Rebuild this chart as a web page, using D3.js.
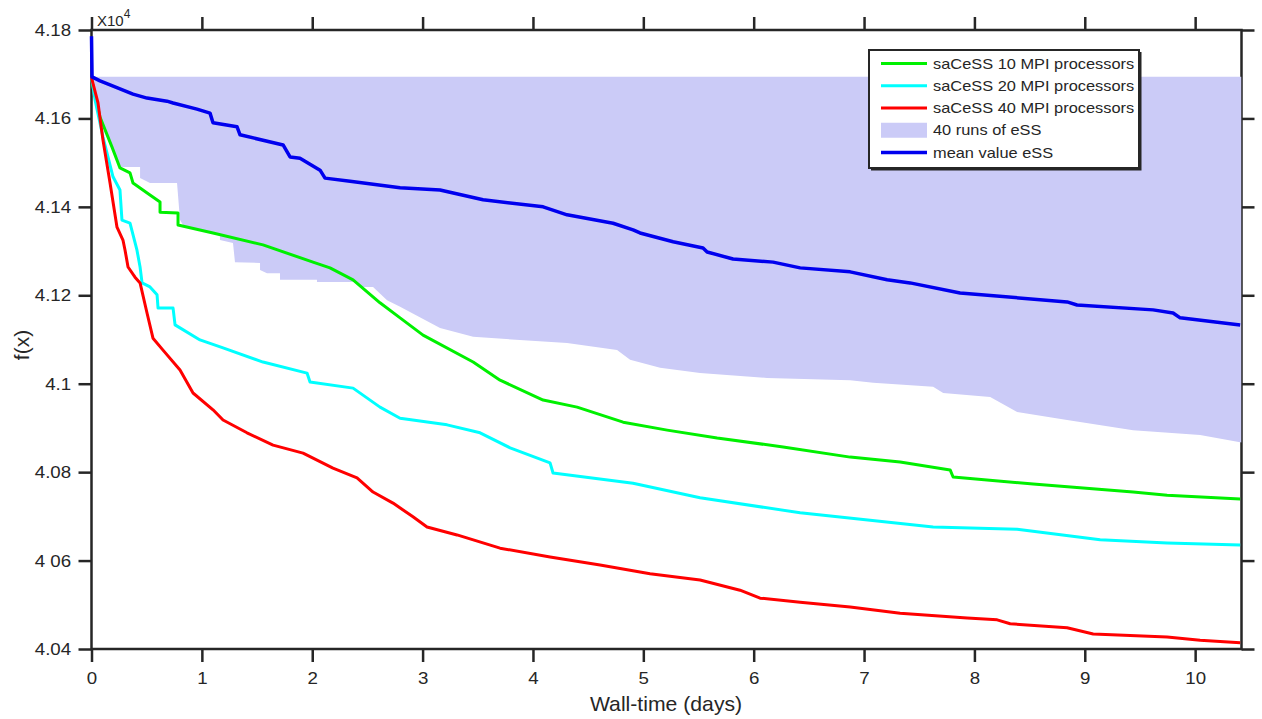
<!DOCTYPE html>
<html>
<head>
<meta charset="utf-8">
<script src="https://cdn.jsdelivr.net/npm/d3@7"></script>
<style>
  html, body { margin: 0; padding: 0; background: #ffffff; }
  svg { display: block; }
  text { font-family: "Liberation Sans", Arial, Helvetica, sans-serif; fill: #262626; }
</style>
</head>
<body>
<svg id="chart" width="1262" height="719"></svg>
<script>
// ---- axis ticks ----
const xTicks = [0, 1, 2, 3, 4, 5, 6, 7, 8, 9, 10];
const xTickLabels = ["0", "1", "2", "3", "4", "5", "6", "7", "8", "9", "10"];
const yTicks = [40400, 40600, 40800, 41000, 41200, 41400, 41600, 41800];
const yTickLabels = ["4.04", "4 06", "4.08", "4.1", "4.12", "4.14", "4.16", "4.18"];
const xMax = 10.42;

// ---- saCeSS, 10 MPI processors: best f(x) vs wall-time (days) ----
const mpi10Time  = [0, 0.014, 0.077, 0.186, 0.258, 0.349, 0.376, 0.530, 0.621, 0.621, 0.784, 0.784, 1.101, 1.554, 2.007, 2.161, 2.370, 2.614, 2.796, 3.004, 3.458, 3.702, 4.092, 4.400, 4.817, 5.216, 5.669, 6.267, 6.874, 7.327, 7.780, 7.807, 8.532, 9.438, 9.746, 10.408];
const mpi10Value = [41694, 41671, 41603, 41535, 41488, 41477, 41454, 41427, 41411, 41388, 41386, 41359, 41341, 41314, 41275, 41262, 41235, 41183, 41149, 41110, 41049, 41008, 40963, 40947, 40913, 40895, 40877, 40857, 40834, 40823, 40805, 40789, 40773, 40755, 40748, 40739];

// ---- saCeSS, 20 MPI processors ----
const mpi20Time  = [0, 0.032, 0.104, 0.195, 0.258, 0.276, 0.349, 0.412, 0.440, 0.458, 0.530, 0.594, 0.603, 0.739, 0.757, 0.983, 1.192, 1.554, 1.953, 1.980, 2.370, 2.614, 2.796, 3.222, 3.521, 3.793, 4.155, 4.182, 4.907, 5.514, 6.421, 7.626, 8.387, 9.139, 9.746, 10.408];
const mpi20Value = [41694, 41642, 41558, 41468, 41438, 41370, 41363, 41302, 41264, 41228, 41219, 41201, 41171, 41171, 41133, 41099, 41081, 41049, 41024, 41004, 40990, 40947, 40922, 40907, 40889, 40855, 40821, 40798, 40775, 40742, 40708, 40676, 40671, 40647, 40640, 40635];

// ---- saCeSS, 40 MPI processors ----
const mpi40Time  = [0, 0.005, 0.059, 0.104, 0.168, 0.231, 0.285, 0.304, 0.331, 0.394, 0.440, 0.503, 0.557, 0.648, 0.802, 0.920, 1.101, 1.192, 1.409, 1.645, 1.917, 2.188, 2.406, 2.551, 2.732, 2.913, 3.040, 3.312, 3.702, 4.155, 4.608, 5.061, 5.514, 5.876, 6.058, 6.421, 6.874, 7.327, 7.934, 8.206, 8.324, 8.840, 9.076, 9.746, 10.045, 10.408];
const mpi40Value = [41694, 41687, 41635, 41551, 41454, 41354, 41325, 41302, 41264, 41241, 41228, 41160, 41103, 41076, 41031, 40979, 40941, 40918, 40889, 40861, 40843, 40809, 40787, 40755, 40730, 40699, 40676, 40658, 40628, 40608, 40590, 40570, 40556, 40533, 40515, 40506, 40495, 40481, 40470, 40466, 40457, 40448, 40434, 40427, 40420, 40414];

// ---- eSS: mean of 40 runs ----
const essMeanTime  = [0, 0.005, 0.077, 0.168, 0.376, 0.503, 0.684, 0.739, 0.956, 1.074, 1.101, 1.319, 1.346, 1.736, 1.799, 1.889, 2.071, 2.116, 2.343, 2.796, 3.158, 3.548, 4.092, 4.309, 4.726, 4.907, 4.970, 5.270, 5.541, 5.578, 5.813, 6.176, 6.421, 6.874, 7.209, 7.417, 7.870, 8.840, 8.930, 9.619, 9.800, 9.864, 10.408];
const essMeanValue = [41786, 41694, 41685, 41676, 41655, 41646, 41639, 41635, 41621, 41612, 41590, 41581, 41563, 41540, 41513, 41510, 41483, 41465, 41458, 41443, 41438, 41416, 41400, 41382, 41363, 41348, 41341, 41321, 41307, 41298, 41282, 41275, 41262, 41253, 41235, 41228, 41205, 41185, 41178, 41167, 41160, 41149, 41133];

// ---- eSS: envelope of the 40 runs (best value reached by any run, worst run) ----
const essBandTop = 41694;
const essBandTime = [0, 0.014, 0.077, 0.186, 0.258, 0.440, 0.440, 0.530, 0.775, 0.802, 0.829, 1.101, 1.164, 1.164, 1.282, 1.300, 1.527, 1.527, 1.590, 1.708, 1.708, 2.043, 2.043, 2.406, 2.433, 2.551, 2.678, 2.796, 3.158, 3.458, 4.309, 4.762, 4.880, 5.152, 5.514, 6.121, 6.874, 7.083, 7.626, 7.717, 8.143, 8.387, 8.840, 9.438, 10.045, 10.42];
const essBandLow  = [41694, 41671, 41603, 41535, 41490, 41490, 41465, 41454, 41454, 41370, 41359, 41341, 41341, 41325, 41318, 41275, 41273, 41257, 41250, 41250, 41235, 41235, 41230, 41230, 41219, 41219, 41189, 41174, 41126, 41106, 41092, 41076, 41054, 41036, 41024, 41013, 41008, 41002, 40993, 40979, 40970, 40936, 40918, 40895, 40884, 40867];

// ---- legend ----
const legendLabels = ["saCeSS 10 MPI processors", "saCeSS 20 MPI processors", "saCeSS 40 MPI processors", "40 runs of eSS", "mean value eSS"];

// ---------------------------------------------------------------
const AXIS = "#262626";
const COL = { mpi10: "#00f000", mpi20: "#00ffff", mpi40: "#ff0000", band: "#cbcbf7", mean: "#0000ee" };
const svg = d3.select("#chart");
const pL = 91.5, pR = 1241.5, pT = 30, pB = 649;

const x = d3.scaleLinear().domain([0, xMax]).range([pL, pR]);
const y = d3.scaleLinear().domain([40400, 41800]).range([pB, pT]);

// ---- axes (box and ticks sit under the data lines) ----
function styleAxis(g) {
  g.select(".domain").remove();
  g.selectAll(".tick line").attr("stroke", AXIS).attr("stroke-width", 2.5);
  g.attr("font-family", null).attr("font-size", null);
}
const TS = 1.1; // horizontal stretch of tick labels

const gb = svg.append("g").attr("transform", `translate(0,${pB})`)
  .call(d3.axisBottom(x).tickValues(xTicks).tickFormat((d, i) => xTickLabels[i]).tickSize(13).tickPadding(10));
styleAxis(gb);
gb.selectAll(".tick text").attr("font-size", 17).attr("fill", AXIS).attr("transform", `scale(${TS},1)`);

const gl = svg.append("g").attr("transform", `translate(${pL},0)`)
  .call(d3.axisLeft(y).tickValues(yTicks).tickFormat((d, i) => yTickLabels[i]).tickSize(13).tickPadding(5.5));
styleAxis(gl);
gl.selectAll(".tick text").attr("font-size", 17).attr("fill", AXIS).attr("transform", `scale(${TS},1)`);

const gt = svg.append("g").attr("transform", `translate(0,${pT})`)
  .call(d3.axisTop(x).tickValues(xTicks).tickFormat(() => "").tickSize(13));
styleAxis(gt);
const gr = svg.append("g").attr("transform", `translate(${pR},0)`)
  .call(d3.axisRight(y).tickValues(yTicks).tickFormat(() => "").tickSize(13));
styleAxis(gr);

svg.append("defs").append("clipPath").attr("id", "plot")
  .append("rect").attr("x", pL - 3).attr("y", pT).attr("width", pR - pL + 3).attr("height", pB - pT);

const plot = svg.append("g").attr("clip-path", "url(#plot)");

// envelope of the eSS runs
const band = essBandTime.map((t, i) => ({ t, lo: essBandLow[i], hi: essBandTop }));
plot.append("path").datum(band)
  .attr("fill", COL.band)
  .attr("d", d3.area().x(d => x(d.t)).y0(d => y(d.lo)).y1(d => y(d.hi)));

svg.append("rect").attr("x", pL).attr("y", pT).attr("width", pR - pL).attr("height", pB - pT)
  .attr("fill", "none").attr("stroke", AXIS).attr("stroke-width", 2.5);

const line = d3.line().x(d => x(d[0])).y(d => y(d[1]));
function drawSeries(times, values, color, width) {
  plot.append("path").datum(times.map((t, i) => [t, values[i]]))
    .attr("fill", "none").attr("stroke", color).attr("stroke-width", width)
    .attr("stroke-linejoin", "round").attr("d", line);
}
// keep the line layer above the box outline
plot.raise();
drawSeries(mpi10Time, mpi10Value, COL.mpi10, 3);
drawSeries(mpi20Time, mpi20Value, COL.mpi20, 3);
drawSeries(mpi40Time, mpi40Value, COL.mpi40, 3);
drawSeries(essMeanTime, essMeanValue, COL.mean, 3.5);

// exponent marker
const expo = svg.append("text").attr("x", 97).attr("y", 26).attr("font-size", 15).attr("fill", AXIS);
expo.append("tspan").text("X10");
expo.append("tspan").attr("font-size", 12).attr("dy", -8).text("4");

// axis titles
svg.append("text").attr("transform", "translate(666,711) scale(1.06,1)")
  .attr("text-anchor", "middle").attr("font-size", 20).attr("fill", AXIS).text("Wall-time (days)");
svg.append("text").attr("transform", "translate(29,345) rotate(-90)")
  .attr("text-anchor", "middle").attr("font-size", 21).attr("fill", AXIS).text("f(x)");

// ---- legend ----
const lg = svg.append("g");
const lx0 = 869, ly0 = 50, lw = 270, lh = 118;
lg.append("rect").attr("x", lx0).attr("y", ly0).attr("width", lw).attr("height", lh)
  .attr("fill", "#ffffff").attr("stroke", AXIS).attr("stroke-width", 2);
lg.append("path").attr("d", `M${lx0 + 2},${ly0 + lh + 1.5}H${lx0 + lw + 1.5}V${ly0 + 2}`)
  .attr("fill", "none").attr("stroke", AXIS).attr("stroke-width", 2);

const legendColors = [COL.mpi10, COL.mpi20, COL.mpi40, COL.band, COL.mean];
const rowY = d3.scalePoint().domain(d3.range(legendLabels.length)).range([63.5, 152.5]);
legendLabels.forEach((lab, i) => {
  const cy = rowY(i);
  if (i === 3) {
    lg.append("rect").attr("x", 881).attr("y", cy - 7.5).attr("width", 46).attr("height", 15).attr("fill", legendColors[i]);
  } else {
    lg.append("line").attr("x1", 881).attr("x2", 927).attr("y1", cy).attr("y2", cy)
      .attr("stroke", legendColors[i]).attr("stroke-width", i === 4 ? 3.5 : 3);
  }
  lg.append("text").attr("transform", `translate(933,${cy + 5}) scale(1.13,1)`)
    .attr("font-size", 14.5).attr("fill", "#111").text(lab);
});
</script>
</body>
</html>
